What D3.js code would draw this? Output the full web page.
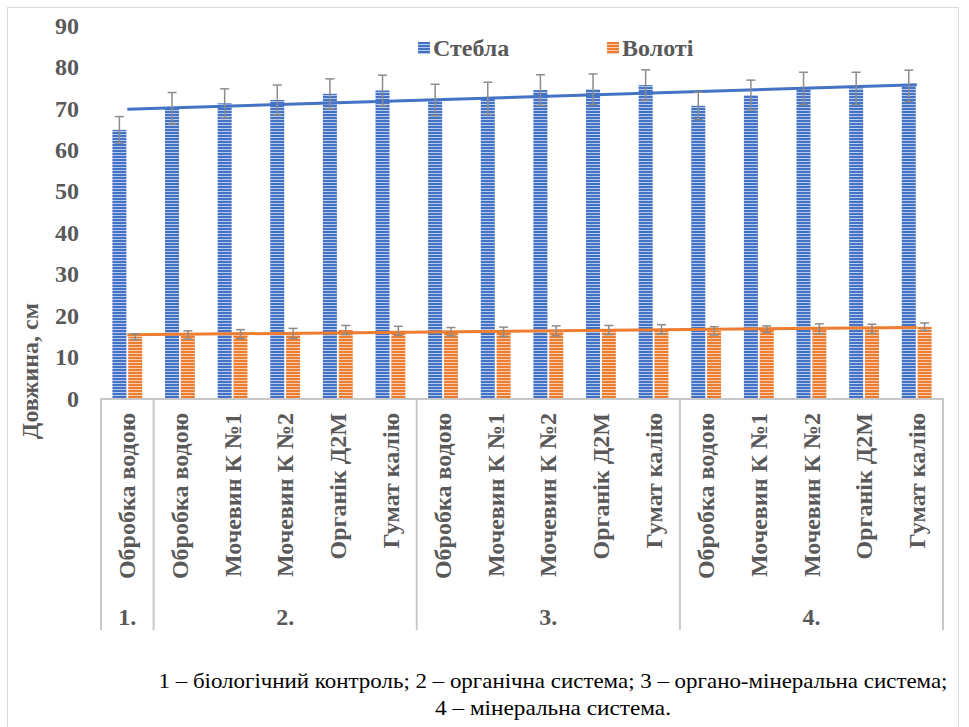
<!DOCTYPE html>
<html>
<head>
<meta charset="utf-8">
<script src="https://cdn.jsdelivr.net/npm/d3@7"></script>
<style>
  html, body { margin: 0; padding: 0; background: #fff; }
  svg { display: block; }
</style>
</head>
<body>
<svg id="chart" width="969" height="727"></svg>
<script>
// ---------- DATA ----------
const treatments = [
  "Обробка водою",
  "Обробка водою", "Мочевин К №1", "Мочевин К №2", "Органік Д2М", "Гумат калію",
  "Обробка водою", "Мочевин К №1", "Мочевин К №2", "Органік Д2М", "Гумат калію",
  "Обробка водою", "Мочевин К №1", "Мочевин К №2", "Органік Д2М", "Гумат калію"
];
const systems = ["1.", "2.", "2.", "2.", "2.", "2.", "3.", "3.", "3.", "3.", "3.", "4.", "4.", "4.", "4.", "4."];
const seriesNames = ["Стебла", "Волоті"];
const stems      = [64.7, 69.9, 71.1, 71.9, 73.4, 74.2, 71.9, 72.3, 74.3, 74.5, 75.5, 70.5, 73.1, 74.7, 74.7, 75.3];
const stemsErr   = [3.2, 3.8, 3.5, 3.6, 3.6, 3.7, 3.8, 3.9, 3.7, 3.7, 3.7, 3.3, 3.6, 3.9, 3.9, 3.8];
const panicles   = [14.8, 15.2, 15.4, 15.6, 16.4, 16.2, 16.0, 16.0, 16.2, 16.4, 16.6, 16.2, 16.6, 16.7, 16.7, 17.2];
const paniclesErr= [0.7, 1.0, 1.1, 1.2, 1.1, 1.1, 1.0, 1.1, 1.2, 1.1, 1.1, 1.0, 0.8, 1.2, 1.1, 0.9];
const yTicks = [0, 10, 20, 30, 40, 50, 60, 70, 80, 90];
const yTitle = "Довжина, см";
const noteLine1 = "1 – біологічний контроль; 2 – органічна система; 3 – органо-мінеральна система;";
const noteLine2 = "4 – мінеральна система.";

// ---------- LAYOUT ----------
const svg = d3.select("#chart");
const grey = "#595959";
const FONT = '"Liberation Serif"';
const colors = { "Стебла": "#4472C4", "Волоті": "#ED7D31" };
const lightColors = { "Стебла": "#b7c8ee", "Волоті": "#f9cdb0" };

const plotLeft = 101, plotRight = 943, plotTop = 25, plotBottom = 398;

function styleText(sel, size, bold, fill) {
  return sel.style("font-family", FONT).style("font-size", size + "px")
    .style("font-weight", bold ? "bold" : "normal").style("fill", fill);
}

// frame
svg.append("rect").attr("x", 7.5).attr("y", 7.5).attr("width", 951).attr("height", 760)
  .attr("fill", "#fff").attr("stroke", "#d9d9d9").attr("stroke-width", 1);

// patterns
const defs = svg.append("defs");
seriesNames.forEach((s, i) => {
  const p = defs.append("pattern").attr("id", "pat" + i).attr("patternUnits", "userSpaceOnUse")
    .attr("width", 6).attr("height", 3);
  p.append("rect").attr("width", 6).attr("height", 3).attr("fill", colors[s]);
  p.append("rect").attr("y", 2).attr("width", 6).attr("height", 1).attr("fill", lightColors[s]);
});

const idx = d3.range(treatments.length);
const x = d3.scaleBand().domain(idx).range([plotLeft, plotRight]).paddingInner(0).paddingOuter(0);
const x1 = d3.scaleBand().domain(seriesNames).range([0, x.bandwidth()]).paddingInner(0.114).paddingOuter(0.72);
const y = d3.scaleLinear().domain([0, 90]).range([plotBottom, plotTop]);

// y tick labels (no axis line)
const yAxis = d3.axisLeft(y).tickValues(yTicks).tickSize(0).tickPadding(0);
const yg = svg.append("g").attr("transform", "translate(79,0)").call(yAxis);
yg.select(".domain").remove();
styleText(yg.selectAll("text"), 24, true, grey).attr("dy", "0.34em");

// y title
styleText(svg.append("text").attr("transform", `translate(38,371) rotate(-90)`)
  .attr("text-anchor", "middle"), 24, true, grey).text(yTitle);

// bars
const seriesData = [
  { name: "Стебла", values: stems, err: stemsErr },
  { name: "Волоті", values: panicles, err: paniclesErr }
];
seriesData.forEach((s, si) => {
  const g = svg.append("g");
  g.selectAll("rect").data(idx).join("rect")
    .attr("x", i => x(i) + x1(s.name))
    .attr("y", i => y(s.values[i]))
    .attr("width", x1.bandwidth())
    .attr("height", i => y(0) - y(s.values[i]))
    .attr("fill", `url(#pat${si})`);
});

// trendlines (least squares over category index)
seriesData.forEach(s => {
  const n = s.values.length;
  const xs = d3.range(1, n + 1);
  const mx = d3.mean(xs), my = d3.mean(s.values);
  const slope = d3.sum(xs, (v, i) => (v - mx) * (s.values[i] - my)) / d3.sum(xs, v => (v - mx) * (v - mx));
  const icpt = my - slope * mx;
  const pts = [0, n - 1].map(i => [x(i) + x.bandwidth() / 2, y(icpt + slope * (i + 1))]);
  svg.append("path").attr("d", d3.line()(pts)).attr("stroke", colors[s.name])
    .attr("stroke-width", 3).attr("fill", "none");
});

// error bars
seriesData.forEach(s => {
  const g = svg.append("g").attr("stroke", "#8c8c8c").attr("stroke-width", 1.5).attr("fill", "none");
  idx.forEach(i => {
    const cx = x(i) + x1(s.name) + x1.bandwidth() / 2;
    const top = y(s.values[i] + s.err[i]), bot = y(s.values[i] - s.err[i]);
    g.append("line").attr("x1", cx).attr("x2", cx).attr("y1", top).attr("y2", bot);
    g.append("line").attr("x1", cx - 4.5).attr("x2", cx + 4.5).attr("y1", top).attr("y2", top);
    g.append("line").attr("x1", cx - 4.5).attr("x2", cx + 4.5).attr("y1", bot).attr("y2", bot);
  });
});

// category axis
const axisColor = "#c8c8c8";
svg.append("line").attr("x1", plotLeft).attr("x2", plotRight).attr("y1", plotBottom + 1).attr("y2", plotBottom + 1)
  .attr("stroke", axisColor).attr("stroke-width", 2);
const groupNames = Array.from(new Set(systems));
const groupBounds = groupNames.map(gn => {
  const members = idx.filter(i => systems[i] === gn);
  return { name: gn, start: x(members[0]), end: x(members[members.length - 1]) + x.bandwidth() };
});
const sepXs = [groupBounds[0].start].concat(groupBounds.map(b => b.end));
svg.selectAll(".sep").data(sepXs).join("line").attr("class", "sep")
  .attr("x1", d => d).attr("x2", d => d).attr("y1", plotBottom).attr("y2", 630)
  .attr("stroke", axisColor).attr("stroke-width", 2);

styleText(svg.selectAll(".cat").data(idx).join("text").attr("class", "cat")
  .attr("transform", i => `translate(${x(i) + x.bandwidth() / 2},413) rotate(-90)`)
  .attr("text-anchor", "end").attr("dy", "0.34em"), 24, true, grey)
  .text(i => treatments[i]);

styleText(svg.selectAll(".grp").data(groupBounds).join("text").attr("class", "grp")
  .attr("x", d => (d.start + d.end) / 2).attr("y", 625)
  .attr("text-anchor", "middle"), 24, true, grey)
  .text(d => d.name);

// legend
const legendPos = [418, 607];
seriesNames.forEach((s, i) => {
  svg.append("rect").attr("x", legendPos[i]).attr("y", 42).attr("width", 12).attr("height", 12)
    .attr("fill", `url(#pat${i})`);
  styleText(svg.append("text").attr("x", legendPos[i] + 15).attr("y", 56), 24, true, grey).text(s);
});

// footnote
styleText(svg.append("text").attr("x", 553).attr("y", 688).attr("text-anchor", "middle"), 21, false, "#000")
  .attr("textLength", 789).attr("lengthAdjust", "spacingAndGlyphs").text(noteLine1);
styleText(svg.append("text").attr("x", 553).attr("y", 715).attr("text-anchor", "middle"), 21, false, "#000")
  .attr("textLength", 236).attr("lengthAdjust", "spacingAndGlyphs").text(noteLine2);
</script>
</body>
</html>
